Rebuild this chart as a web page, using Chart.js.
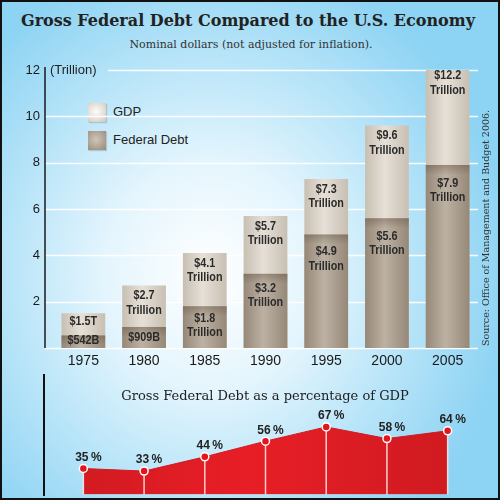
<!DOCTYPE html>
<html>
<head>
<meta charset="utf-8">
<script src="https://cdn.jsdelivr.net/npm/chart.js@4/dist/chart.umd.min.js"></script>
<style>
  html, body { margin: 0; padding: 0; }
  #wrap {
    position: relative; width: 500px; height: 500px; overflow: hidden;
    background: radial-gradient(ellipse 60% 65% at 42% 55%, #ffffff 0%, #e4f5fd 35%, #b4e3f8 70%, #8dd3f3 100%);
    font-family: "Liberation Sans", Arial, sans-serif; color: #222;
  }
  #frame { position: absolute; inset: 0; border: 2px solid #111; box-sizing: border-box; pointer-events: none; }
  canvas { position: absolute; left: 0; }
  .title { position: absolute; left: 0; width: 500px; text-align: center; font-family: "DejaVu Serif", serif; white-space: nowrap; }
  .legend-box { position: absolute; left: 88px; width: 18px; height: 19px; box-shadow: 1px 1px 1px rgba(0,0,0,0.15); }
  .legend-text { position: absolute; left: 113px; font-size: 13px; }
</style>
</head>
<body>
<div id="wrap">
  <div class="title" style="top:11px;left:-2px;font-size:16px;font-weight:bold;">Gross Federal Debt Compared to the U.S. Economy</div>
  <div class="title" style="top:38px;left:1px;font-size:11px;color:#333;">Nominal dollars (not adjusted for inflation).</div>

  <div class="legend-box" style="top:103px;background:radial-gradient(circle at 45% 45%, #fdfcfa 0%, #e6e0d7 55%, #cdc5b9 100%);"></div>
  <div class="legend-text" style="top:104px;">GDP</div>
  <div class="legend-box" style="top:131px;background:radial-gradient(circle at 45% 45%, #cfc6ba 0%, #b0a495 55%, #958877 100%);"></div>
  <div class="legend-text" style="top:132px;">Federal Debt</div>

  <canvas id="top" width="500" height="375" style="top:0;"></canvas>
  <canvas id="bottom" width="500" height="125" style="top:375px;"></canvas>

  <div style="position:absolute;left:50px;top:62px;font-size:13px;">(Trillion)</div>
  <div style="position:absolute;left:43px;top:374px;width:1.5px;height:122px;background:#111;"></div>
  <div class="title" style="top:388px;left:15px;font-size:13px;color:#222;">Gross Federal Debt as a percentage of GDP</div>
  <div style="position:absolute;left:367px;top:221px;width:240px;text-align:center;white-space:nowrap;font-family:'DejaVu Serif',serif;font-size:9.5px;color:#333;transform:rotate(-90deg);transform-origin:120px 7px;">Source: Office of Management and Budget 2006.</div>
  <div id="frame"></div>
</div>

<script>
// data
const years = ['1975', '1980', '1985', '1990', '1995', '2000', '2005'];
const gdpValues = [1.5, 2.7, 4.1, 5.7, 7.3, 9.6, 12.2];
const debtValues = [0.542, 0.909, 1.8, 3.2, 4.9, 5.6, 7.9];
const gdpLabels = [['$1.5T'], ['$2.7', 'Trillion'], ['$4.1', 'Trillion'], ['$5.7', 'Trillion'],
                   ['$7.3', 'Trillion'], ['$9.6', 'Trillion'], ['$12.2', 'Trillion']];
const debtLabels = [['$542B'], ['$909B'], ['$1.8', 'Trillion'], ['$3.2', 'Trillion'],
                    ['$4.9', 'Trillion'], ['$5.6', 'Trillion'], ['$7.9', 'Trillion']];
const debtShare = [35, 33, 44, 56, 67, 58, 64];
const yMax = 12;
const yStep = 2;

const labelFont = 'bold 13.5px "Liberation Sans", Arial, sans-serif';

// horizontal shading across each bar
function barFill(context, light, dark) {
    const chart = context.chart;
    if (!chart.chartArea || context.type !== 'data') return light;
    const x = chart.scales.x.getPixelForValue(context.dataIndex);
    const g = chart.ctx.createLinearGradient(x - 22, 0, x + 22, 0);
    g.addColorStop(0, dark);
    g.addColorStop(0.45, light);
    g.addColorStop(1, dark);
    return g;
}

// narrow bold text like the condensed face of the original
function narrowText(ctx, s, x, y) {
    ctx.save();
    ctx.translate(x, y);
    ctx.scale(0.8, 1);
    ctx.fillText(s, 0, 0);
    ctx.restore();
}

const topDecor = {
    id: 'topDecor',
    beforeDatasetsDraw(chart) {
        const { ctx, chartArea, scales } = chart;
        ctx.save();
        // grid lines (white) from the axis line across
        ctx.strokeStyle = 'rgba(255,255,255,0.95)';
        ctx.lineWidth = 1.5;
        scales.y.ticks.forEach(t => {
            const y = Math.round(scales.y.getPixelForValue(t.value)) + 0.5;
            ctx.beginPath();
            ctx.moveTo(t.value === yMax ? 108 : 45, y);
            ctx.lineTo(chartArea.right, y);
            ctx.stroke();
        });
        // axis line
        ctx.strokeStyle = '#1a1a1a';
        ctx.lineWidth = 1.5;
        ctx.beginPath();
        ctx.moveTo(45, chartArea.top - 3);
        ctx.lineTo(45, chartArea.bottom);
        ctx.stroke();
        ctx.restore();
    },
    afterDatasetsDraw(chart) {
        const { ctx } = chart;
        ctx.save();
        // darker band at the top of the debt bars
        const debtMeta = chart.getDatasetMeta(0);
        debtMeta.data.forEach(bar => {
            const h = Math.min(10, bar.base - bar.y);
            const g = ctx.createLinearGradient(0, bar.y, 0, bar.y + h);
            g.addColorStop(0, 'rgba(90,72,55,0.35)');
            g.addColorStop(1, 'rgba(90,72,55,0)');
            ctx.fillStyle = g;
            ctx.fillRect(bar.x - bar.width / 2, bar.y, bar.width, h);
        });
        ctx.font = labelFont;
        ctx.fillStyle = '#2a2a2a';
        ctx.textAlign = 'center';
        ctx.textBaseline = 'middle';
        chart.getDatasetMeta(1).data.forEach((bar, i) => {
            const lines = gdpLabels[i];
            const first = lines.length === 1 ? bar.y + 8 : bar.y + 10;
            lines.forEach((s, k) => narrowText(ctx, s, bar.x, first + k * 14.5));
        });
        debtMeta.data.forEach((bar, i) => {
            const lines = debtLabels[i];
            const h = bar.base - bar.y;
            let first = bar.y + Math.min(18, 9 + h * 0.07);
            if (lines.length === 1) first = Math.min(bar.y + 10, bar.base - 8);
            lines.forEach((s, k) => narrowText(ctx, s, bar.x, first + k * 14.5));
        });
        ctx.restore();
    }
};

new Chart(document.getElementById('top'), {
    type: 'bar',
    data: {
        labels: years,
        datasets: [
            {
                label: 'Federal Debt',
                data: debtValues,
                grouped: false,
                backgroundColor: c => barFill(c, '#bcb1a3', '#968877'),
                categoryPercentage: 1,
                barPercentage: 0.72
            },
            {
                label: 'GDP',
                data: gdpValues,
                grouped: false,
                backgroundColor: c => barFill(c, '#e6e0d7', '#c8bfb2'),
                categoryPercentage: 1,
                barPercentage: 0.72
            }
        ]
    },
    options: {
        responsive: false,
        animation: false,
        layout: { padding: { top: 70, right: 22, left: 0, bottom: 0 } },
        plugins: { legend: { display: false }, tooltip: { enabled: false } },
        scales: {
            x: {
                grid: { display: false, drawTicks: false, tickLength: 0 },
                border: { display: false },
                ticks: { color: '#1a1a1a', font: { size: 14, family: '"Liberation Sans", Arial, sans-serif' }, padding: 5 },
                afterFit: s => { s.height = 27; }
            },
            y: {
                min: 0,
                max: yMax,
                grid: { display: false, drawTicks: false, tickLength: 0 },
                border: { display: false },
                ticks: {
                    stepSize: yStep,
                    padding: 13,
                    color: '#1a1a1a',
                    font: { size: 13, family: '"Liberation Sans", Arial, sans-serif' },
                    callback: v => (v === 0 ? '' : v)
                },
                afterFit: s => { s.width = 53; }
            }
        }
    },
    plugins: [topDecor]
});

const bottomDecor = {
    id: 'bottomDecor',
    afterDatasetsDraw(chart) {
        const { ctx, chartArea } = chart;
        ctx.save();
        const pts = chart.getDatasetMeta(0).data;
        ctx.strokeStyle = 'rgba(255,225,225,0.9)';
        ctx.lineWidth = 1.5;
        pts.forEach(p => {
            ctx.beginPath();
            ctx.moveTo(p.x, p.y + 4);
            ctx.lineTo(p.x, chartArea.bottom);
            ctx.stroke();
        });
        ctx.font = 'bold 12px "Liberation Sans", Arial, sans-serif';
        ctx.fillStyle = '#222';
        ctx.textAlign = 'center';
        ctx.textBaseline = 'middle';
        pts.forEach((p, i) => ctx.fillText(debtShare[i] + '\u2009%', p.x + 5, p.y - 11));
        ctx.restore();
    }
};

new Chart(document.getElementById('bottom'), {
    type: 'line',
    data: {
        labels: years,
        datasets: [{
            label: 'Debt as % of GDP',
            data: debtShare,
            fill: 'start',
            tension: 0,
            borderColor: '#cf1a21',
            borderWidth: 1,
            backgroundColor: c => {
                const area = c.chart.chartArea;
                if (!area) return '#e01d24';
                const g = c.chart.ctx.createLinearGradient(area.left, 0, area.right, 0);
                g.addColorStop(0, '#cf1a21');
                g.addColorStop(0.45, '#e81e26');
                g.addColorStop(1, '#cc1a20');
                return g;
            },
            pointRadius: 4,
            pointBackgroundColor: '#e3141c',
            pointBorderColor: '#ffffff',
            pointBorderWidth: 1.5
        }]
    },
    options: {
        responsive: false,
        animation: false,
        layout: { padding: { top: 35, right: 22, left: 53, bottom: 5 } },
        plugins: { legend: { display: false }, tooltip: { enabled: false } },
        scales: {
            x: { display: false, offset: true },
            y: { display: false, min: 15, max: 80 }
        }
    },
    plugins: [bottomDecor]
});
</script>
</body>
</html>
